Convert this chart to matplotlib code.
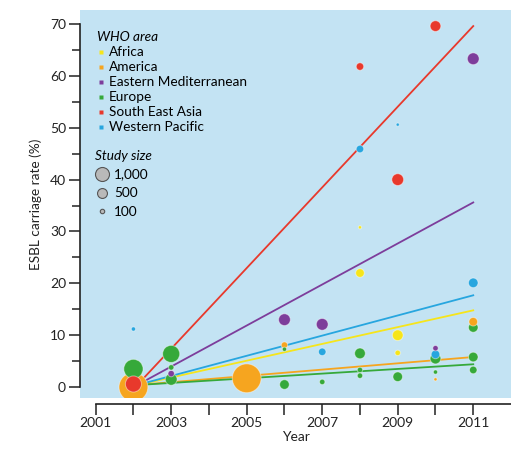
import numpy as np
import matplotlib.pyplot as plt
from matplotlib.lines import Line2D

plt.rcParams['font.family'] = ['Lato', 'DejaVu Sans']

# ── WHO area colours ─────────────────────────────────────────────────────────
AREAS  = ["Africa", "America", "Eastern Mediterranean", "Europe",
          "South East Asia", "Western Pacific"]
COLORS = ["#f6e51b", "#f6a51f", "#7d3d9b", "#36a93a", "#e8392c", "#27a6df"]

# ── Studies: year, carriage rate (%), study size, WHO area index ────────────
years = [2002, 2002, 2002, 2002,
         2003, 2003, 2003, 2003,
         2005,
         2006, 2006, 2006, 2006,
         2007, 2007, 2007,
         2008, 2008, 2008, 2008, 2008, 2008, 2008,
         2009, 2009, 2009, 2009, 2009,
         2010, 2010, 2010, 2010, 2010, 2010,
         2011, 2011, 2011, 2011, 2011, 2011]
rates = [0.0, 0.6, 3.5, 11.2,
         6.4, 1.5, 2.6, 3.8,
         1.7,
         13.0, 8.1, 7.3, 0.5,
         12.1, 6.8, 1.0,
         22.0, 6.5, 3.3, 2.2, 61.8, 45.9, 30.8,
         10.0, 6.6, 2.0, 40.0, 50.6,
         7.5, 6.3, 5.5, 2.9, 1.5, 69.6,
         20.1, 12.6, 11.5, 5.8, 3.3, 63.3]
sizes = [3700, 1150, 1650, 80,
         1300, 620, 180, 130,
         3700,
         620, 180, 80, 410,
         620, 250, 130,
         330, 510, 130, 130, 250, 250, 45,
         510, 130, 410, 620, 45,
         130, 330, 510, 80, 45, 510,
         410, 330, 410, 410, 250, 620]
areas = [1, 4, 3, 5,
         3, 3, 2, 3,
         1,
         2, 1, 3, 3,
         2, 5, 3,
         0, 3, 3, 3, 4, 5, 0,
         0, 0, 3, 4, 5,
         2, 5, 3, 3, 1, 4,
         5, 1, 3, 3, 3, 2]

# ── Trend lines per area: start/end year and value ──────────────────────────
trend_x0, trend_x1 = 2002.1, 2011
trend_y0 = [0.4, 0.4, 0.4, 0.4, 0.4, 0.4]
trend_y1 = [14.8, 5.8, 35.6, 4.4, 69.6, 17.7]

LEGEND_SIZES = [1000, 500, 100]
BG = "#c3e3f3"


def marker_diam(n):
    # 1,000 participants -> ~15 px diameter, returned in points
    return 15 * np.sqrt(np.asarray(n) / 1000) * 0.72


fig = plt.figure(figsize=(5.11, 4.49), dpi=100)
ax = fig.add_axes([80 / 511, 51 / 449, 431 / 511, 388 / 449])
ax.set_facecolor(BG)

for i in range(len(AREAS)):
    ax.plot([trend_x0, trend_x1], [trend_y0[i], trend_y1[i]],
            color=COLORS[i], lw=1.3, zorder=2)

cols = [COLORS[a] for a in areas]
order = np.argsort(sizes)[::-1]
ax.scatter(np.array(years)[order], np.array(rates)[order],
           s=marker_diam(np.array(sizes)[order]) ** 2,
           c=np.array(cols)[order], edgecolors=(1, 1, 1, 0.45),
           linewidths=0.7, zorder=3)

ax.set_xlim(2000.585, 2012.0)
ax.set_ylim(-2.1, 72.7)

for s in ["top", "right"]:
    ax.spines[s].set_visible(False)
ax.spines["left"].set_bounds(0, 70)
ax.spines["bottom"].set_position(("outward", 4))
ax.spines["bottom"].set_bounds(2001, 2012)
for s in ["left", "bottom"]:
    ax.spines[s].set_linewidth(1.2)
    ax.spines[s].set_color("#222222")

ax.set_yticks(range(0, 71, 10))
ax.set_yticks(range(5, 70, 10), minor=True)
ax.set_xticks(range(2001, 2012))
ax.set_xticklabels([str(y) if y % 2 == 1 else "" for y in range(2001, 2012)])
ax.tick_params(axis="both", which="both", direction="out", width=1.1,
               color="#222222", labelsize=10, labelcolor="#222222")
ax.tick_params(axis="y", which="major", length=8, pad=2)
ax.tick_params(axis="y", which="minor", length=6)
ax.tick_params(axis="x", length=8, pad=2)

ax.set_ylabel("ESBL carriage rate (%)", fontsize=9.8, color="#222222", labelpad=6)
ax.set_xlabel("Year", fontsize=10, color="#222222", labelpad=1)

# legend: WHO area
area_handles = [Line2D([], [], ls="none", marker="s", ms=3.5, mfc=c, mec="none")
                for c in COLORS]
leg1 = ax.legend(area_handles, AREAS, title="WHO area", loc="upper left",
                 bbox_to_anchor=(0.04, 0.945), frameon=False, fontsize=9.8,
                 handlelength=0.5, handletextpad=0.35, labelspacing=0.22,
                 borderpad=0, borderaxespad=0, alignment="left")
leg1.get_title().set_fontstyle("italic")
leg1.get_title().set_fontsize(9.8)
ax.add_artist(leg1)

# legend: study size
size_handles = [Line2D([], [], ls="none", marker="o",
                       ms=14 * np.sqrt(n / 1000) * 0.72,
                       mfc="#b9b9b9", mec="#555555", mew=0.8)
                for n in LEGEND_SIZES]
leg2 = ax.legend(size_handles, [f"{n:,}" for n in LEGEND_SIZES],
                 title="Study size", loc="upper left",
                 bbox_to_anchor=(0.035, 0.64), frameon=False, fontsize=9.8,
                 handlelength=1.0, handletextpad=0.4, labelspacing=0.5,
                 borderpad=0, borderaxespad=0, alignment="left")
leg2.get_title().set_fontstyle("italic")
leg2.get_title().set_fontsize(9.8)

fig.savefig("out.png", dpi=100)
